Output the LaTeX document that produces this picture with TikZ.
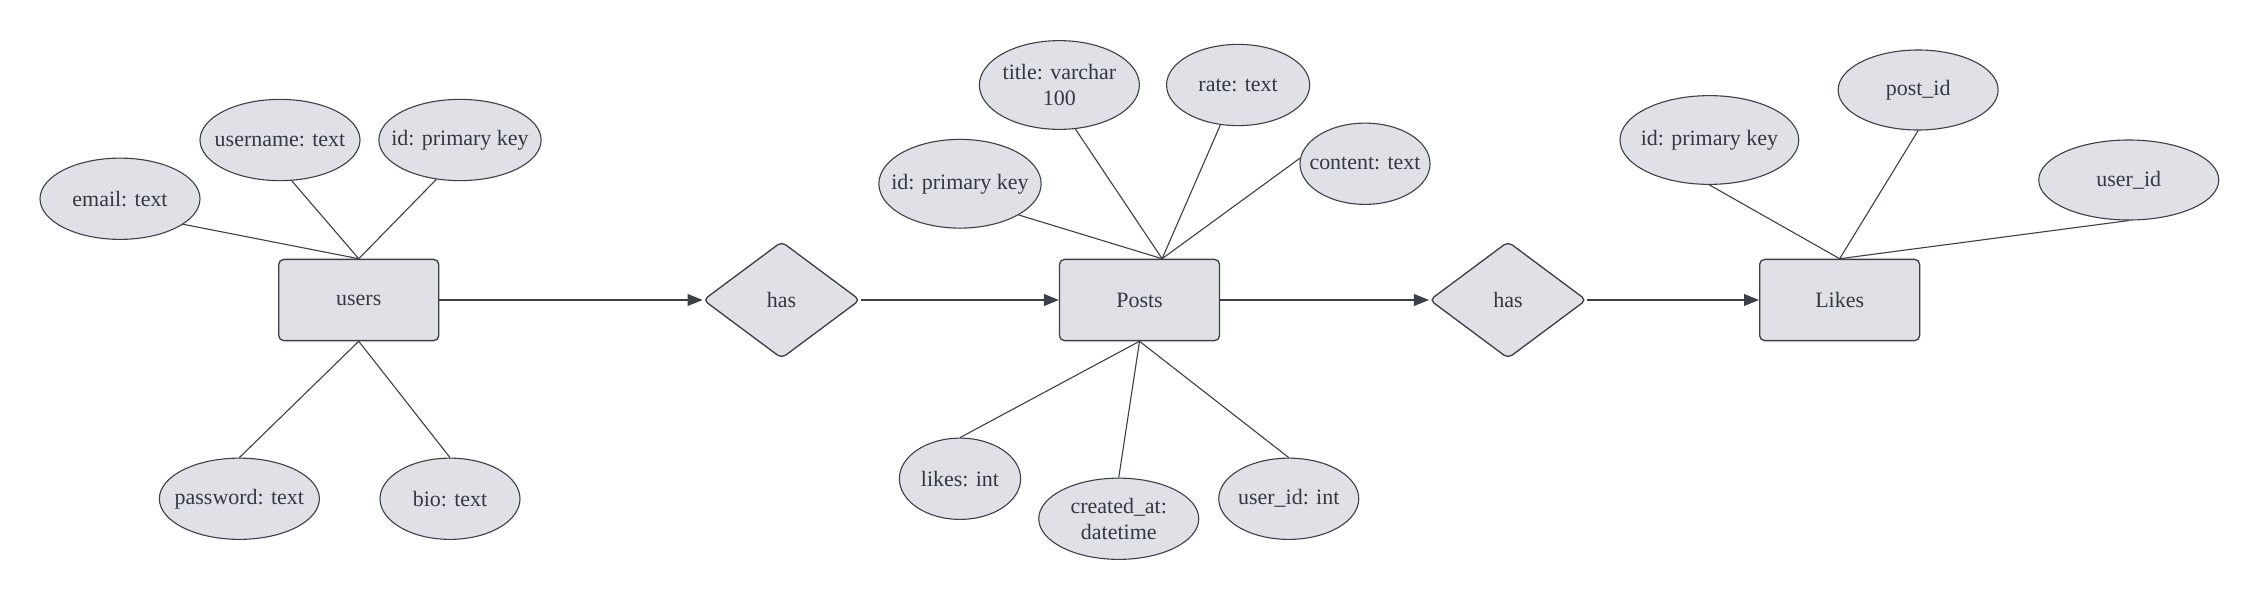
\documentclass[tikz,border=0pt]{standalone}
\usepackage{fontspec}
\setmainfont{Liberation Serif}
\usetikzlibrary{arrows.meta,positioning,calc,shapes.geometric}
\definecolor{erfill}{HTML}{DFE1E6}
\definecolor{erline}{HTML}{3A3F48}
\definecolor{ertext}{HTML}{333842}

\begin{document}
\begin{tikzpicture}[>={Triangle[length=2.4mm,width=1.9mm]}, every node/.style={text=ertext},
  ent/.style={draw=erline, fill=erfill, rounded corners=0.8mm, minimum width=2.56cm, minimum height=1.3cm, line width=0.6pt},
  rel/.style={draw=erline, fill=erfill, diamond, rounded corners=0.8mm, minimum width=2.51cm, minimum height=1.87cm, inner sep=0pt, line width=0.6pt},
  attr/.style={draw=erline, fill=erfill, ellipse, inner xsep=-1.8mm, inner ysep=0pt, minimum width=2.56cm, minimum height=1.3cm, line width=0.5pt, align=center},
  link/.style={draw=erline, line width=0.5pt}]
  \useasboundingbox (0,0) rectangle (36.16,9.6);
  % entities and relationships
  \node[ent] (users) at (5.74,4.8) {users};
  \node[rel, right=4.21cm of users] (has1) {has};
  \node[ent, right=3.17cm of has1] (posts) {Posts};
  \node[rel, right=3.34cm of posts] (has2) {has};
  \node[ent, right=2.75cm of has2] (likes) {Likes};
  \draw[link,->] (users) -- (has1);
  \draw[link,->] (has1) -- (posts);
  \draw[link,->] (posts) -- (has2);
  \draw[link,->] (has2) -- (likes);

  % users attributes
  \node[attr] (uemail) at (1.92,6.42) {email: text};
  \node[attr] (uname) at (4.48,7.36) {username: text};
  \node[attr] (uid) at (7.36,7.36) {id: primary key};
  \node[attr] (upass) at (3.83,1.62) {password: text};
  \node[attr, minimum width=2.24cm] (ubio) at (7.2,1.62) {bio: text};
  \draw[link] (users.north) -- (uemail.-22);
  \draw[link] (users.north) -- (uname.-74);
  \draw[link] (users.north) -- (uid.-121);
  \foreach \a in {upass,ubio}
    \draw[link] (users.south) -- (\a.north);

  % posts attributes
  \node[attr, minimum height=1.42cm] (ptitle) at (16.95,8.24) {title: varchar\\100};
  \node[attr, minimum width=2.29cm] (prate) at (19.81,8.24) {rate: text};
  \node[attr, minimum width=2.08cm] (pcontent) at (21.84,6.98) {content: text};
  \node[attr, minimum height=1.42cm] (pid) at (15.36,6.66) {id: primary key};
  \node[attr, minimum width=1.94cm] (plikes) at (15.36,1.94) {likes: int};
  \node[attr] (pcreated) at (17.9,1.3) {created\_at:\\datetime};
  \node[attr, minimum width=2.24cm] (puser) at (20.62,1.62) {user\_id: int};
  \coordinate (ptop) at ($(posts.north west)!0.64!(posts.north east)$);
  \draw[link] (ptop) -- (pid.-28);
  \draw[link] (ptop) -- (ptitle.-70);
  \draw[link] (ptop) -- (prate.-114);
  \draw[link] (ptop) -- (pcontent.175);
  \foreach \a in {plikes,pcreated,puser}
    \draw[link] (posts.south) -- (\a.north);

  % likes attributes
  \node[attr, minimum width=2.86cm, minimum height=1.42cm] (lid) at (27.35,7.36) {id: primary key};
  \node[attr, minimum height=1.28cm] (lpost) at (30.69,8.16) {post\_id};
  \node[attr, minimum width=2.88cm, minimum height=1.28cm] (luser) at (34.06,6.72) {user\_id};
  \foreach \a in {lid,lpost,luser}
    \draw[link] (likes.north) -- (\a.south);
\end{tikzpicture}
\end{document}
